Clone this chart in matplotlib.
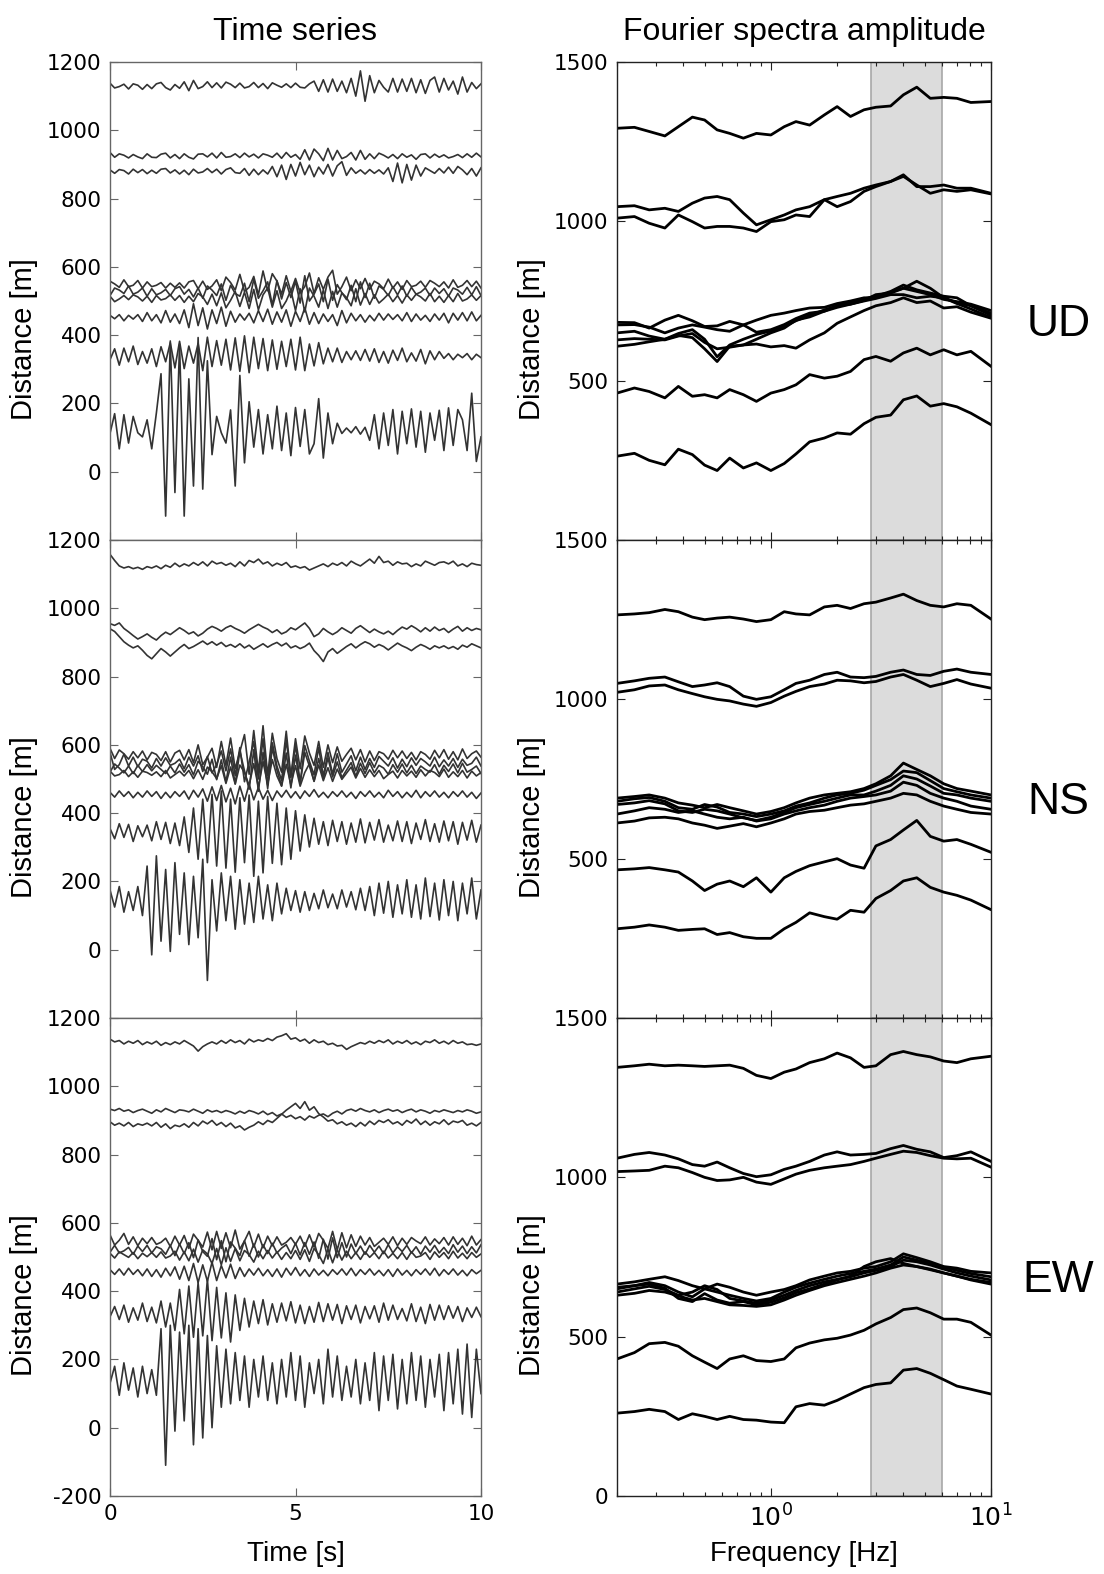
import numpy as np
import matplotlib.pyplot as plt
from matplotlib.ticker import NullFormatter

plt.rcParams['font.family'] = ['Liberation Sans', 'DejaVu Sans']

# ---------------- time series (deviation from station distance, m), dt = 0.125 s
ud_offsets = [1130, 925, 880, 548, 528, 508, 452, 338, 122]
ud_traces = [
    [8,-6,-2,5,-9,6,2,-10, 4,-8,6,10,-5,-12,4,-7, 12,-14,16,-8,-2,12,-5,9, -6,11,5,-5,8,-6,-2,10,
     -5,7,-8,9,2,-4,6,-5, 8,-4,-6,6,14,-16,18,-18, 20,-16,14,-20,22,-30,44,-45, 30,-20,16,-4,-18,22,-18,20,
     -16,22,-20,18,-22,16,26,-18, 22,-12,14,-24,26,-18,10,-8, 6],
    [10,-4,6,2,-6,4,-3,-8, 6,-4,-5,5,8,-6,4,-8, 6,-4,-9,5,6,-3,8,-6, 10,-4,-2,6,-5,8,-3,5,
     -6,6,2,-4,8,-7,10,-4, 4,-10,18,-12,20,6,-14,22, -12,16,-8,-2,10,-12,16,-10, 6,-8,8,2,-6,4,-8,6,
     -4,3,-10,4,6,-6,5,-4, 3,-6,-2,4,-5,6,-4,8, -3],
    [4,-6,5,2,-8,6,-4,5, -7,3,-6,6,8,-5,4,-8, 3,-10,6,-5,-2,8,-4,6, -8,5,10,-4,-6,8,-12,6,
     -10,4,-8,14,-16,18,-24,20, -14,26,-10,18,-16,12,-8,20, -14,16,28,-12,10,-6,4,-8, 5,-6,4,-8,10,-30,24,-34,
     20,-26,18,-14,10,2,-6,8, -5,12,-6,14,4,-10,8,-14, 10],
    [10,2,-8,14,-6,-2,12,-10, 8,-6,-2,6,-10,4,-8,5, -10,8,12,-12,10,-14,-4,14, -18,22,6,-16,30,-20,-8,24,
     -30,40,-18,32,10,-28,26,-20, 18,-24,-6,34,-26,20,-14,22, 42,-28,-6,22,-18,14,-12,18, -14,10,2,-12,16,-10,8,-14,
     12,-6,-2,10,-8,12,4,-6, 8,-10,14,-8,-2,12,-6,10, -10],
    [-12,10,4,-6,16,-8,-2,10, -14,8,-10,-4,6,-12,8,14, -8,6,-16,10,-20,16,4,-12, 22,-26,18,-6,-14,24,-30,36,
     -20,2,28,-40,32,-22,26,-18, 30,-34,46,-28,-8,22,-30,36, -26,20,-4,-24,18,-30,28,-18, 24,-20,16,6,-12,14,-10,16,
     -14,12,-8,-2,10,-12,10,-6, 8,-14,10,4,-8,12,-10,14, -12],
    [6,-10,-2,8,-4,10,4,-8, 6,-12,8,-5,-1,10,-6,8, -12,6,-10,14,4,-18,12,-22, 16,-28,-6,20,-24,18,-30,26,
     -34,10,30,-26,22,-30,-8,24, -36,28,-40,30,6,-26,24,-30, 20,-26,16,2,-22,28,-20,14, -18,10,-14,-2,12,-10,8,-14,
     10,-6,12,4,-8,14,-10,6, -12,8,-10,14,-8,-2,10,-6, 8],
    [6,-4,8,-10,6,-5,8,-12, 14,-10,8,-16,20,-14,10,-18, 22,-30,40,-24,28,-34,22,-18, 30,-26,18,-14,10,-8,12,-16,
     20,-12,24,-20,16,-14,22,-26, 18,-12,28,-20,14,-18,10,-12, 8,-24,20,-16,12,-10,8,-14, 6,-10,12,-8,10,-6,8,-10,
     14,-12,10,-8,6,-12,10,-8, 12,-16,12,-8,14,-10,16,-10, 6],
    [-10,22,-26,24,-16,30,-24,14, -20,22,-30,28,-16,40,-34,44, -36,30,-20,38,-42,56,-30,46, -26,50,-40,54,-44,60,-48,56,
     -36,52,-42,48,-38,44,-30,50, -40,56,-42,36,-28,40,-22,24, -16,24,-18,14,-10,16,-12,20, -14,22,-18,14,-20,18,-12,24,
     -16,10,-14,20,-22,16,-10,14, -6,8,-10,6,-4,8,-10,6, -4],
    [-10,48,-55,45,-38,40,-8,-20, 30,-55,50,165,-252,261,-183,252, -252,150,-164,271,-173,203,-72,40, -8,-38,59,-164,160,-96,83,-50,
     60,-70,45,-55,70,-60,50,-75, 66,-48,60,-70,-40,92,-82,50, -40,20,-10,6,-8,10,-12,8, -30,45,-55,50,-45,60,-70,55,
     -40,62,-50,55,-65,50,-30,58, -60,65,-45,60,30,-60,108,-92, -20],
]

ns_offsets = [1128, 935, 892, 570, 548, 530, 515, 455, 345, 145]
ns_traces = [
    [30,12,-4,-10,-6,-12,-8,-14, -6,-10,-4,-12,-2,-8,4,-6, 2,-4,6,-2,8,-4,10,2, 6,-2,4,-6,8,-4,12,6,
     16,2,8,-4,4,-2,6,-8, -4,-10,-6,-16,-10,-4,2,-6, 4,-2,6,-4,10,2,-4,6, 16,4,24,6,10,-2,8,2,
     4,-6,2,-4,10,4,-2,6, 8,2,10,-4,2,-6,4,0, -2],
    [20,15,22,6,-4,-15,-25,-18, -10,-20,-28,-15,-5,-12,-2,8, 0,-10,-4,-16,-8,4,12,6, -2,8,14,6,0,-8,2,10,
     18,10,4,-6,2,-10,-4,8, 2,12,22,6,-18,-10,6,-4, -12,-4,8,0,-8,6,14,4, -6,4,-4,-10,-2,-12,0,10,
     4,14,6,-4,8,-2,10,0, 6,-6,4,12,-2,8,0,6, 2],
    [48,40,25,10,0,-8,-2,-15, -30,-40,-25,-10,-20,-32,-20,-8, 2,-10,-4,4,12,2,10,0, 8,-4,2,-6,4,-8,0,-12,
     -4,4,-6,2,8,-2,6,-8, -2,-10,-4,6,-16,-30,-48,-20, -10,-24,-14,-4,4,-8,2,10, 4,-6,2,-4,-14,-4,6,-2,
     -8,-16,-6,2,-4,-12,-2,-8, -2,-10,-4,-12,0,-6,4,-2, -8],
    [20,-10,15,4,-12,10,-8,12, -14,8,2,-16,10,-20,6,14, -14,16,-22,30,-28,-6,20,-36, 40,-30,50,-40,10,60,-56,72,
     -50,86,-60,64,-10,-50,70,-62, 48,-40,56,6,-30,40,-36,30, -22,24,-18,2,20,-14,16,-20, 12,-16,10,4,-12,14,-8,12,
     -10,8,-14,10,2,-12,14,-8, 16,-12,10,-14,18,-10,4,12, -6],
    [30,-20,-6,25,-10,16,-12,10, 4,-16,12,-10,14,-8,-2,10, -18,16,-10,20,-26,18,-30,-6, 34,-24,40,-38,44,-56,2,62,
     -48,70,-66,58,-10,-52,66,-44, 52,-60,50,4,-36,44,-40,30, -34,26,-28,-4,20,-24,16,-20, 12,-14,18,4,-10,14,-16,10,
     -12,14,-8,12,2,-10,16,-12, 8,-10,12,-14,10,-8,-2,16, -10],
    [-10,14,2,-12,8,-14,10,-8, 12,-6,10,-2,-14,8,-12,14, -10,12,-18,22,6,-16,28,-32, 26,-38,34,-44,52,-6,-60,56,
     -66,48,-58,62,-4,-50,46,-56, 40,-44,48,8,-36,30,-28,32, -24,20,-26,-4,18,-22,16,-14, 18,-12,10,2,-16,12,-10,14,
     -12,10,-14,8,-2,-10,12,-16, 10,-8,14,-12,16,-10,-2,8, -14],
    [8,-6,-2,10,-8,6,-10,8, 4,-4,6,-8,10,-12,-2,8, -6,10,-14,12,-16,20,6,-14, 24,-28,20,-30,26,4,-34,30,
     -40,36,-30,42,-6,-36,28,-32, 24,-36,4,30,-22,26,-20,18, -22,14,-16,2,20,-12,16,-10, 12,-8,10,-14,-2,8,-12,10,
     -6,8,-10,12,-6,10,4,-8, 14,-10,6,-8,10,-12,8,-6, 4],
    [6,-8,10,-6,8,-10,6,-8, 10,-6,8,-12,6,-10,8,-6, 10,-14,12,-8,16,-20,22,-18, 26,-22,18,-28,24,-20,30,-16,
     20,-14,12,-18,10,-8,12,-10, 8,-12,10,-6,14,-8,6,-10, 8,-6,10,-8,6,-12,8,-6, 10,-8,6,-10,12,-6,8,-10,
     6,-8,12,-10,8,-6,10,-8, 6,-10,8,-6,10,-8,6,-12, 4],
    [10,-20,24,-16,22,-28,18,-14, 20,-26,30,-22,28,-34,26,-40, 44,-60,70,-80,96,-90,110,-100, 120,-106,96,-118,100,-90,108,-130,
     90,-120,104,-92,84,-96,70,-80, 62,-56,50,-44,40,-36,30,-40, 34,-28,30,-36,26,-30,38,-32, 28,-24,36,-30,20,-26,32,-28,
     30,-34,26,-22,36,-28,24,-30, 32,-26,30,-36,28,-24,34,-30, 20],
    [30,-20,40,-35,25,-30,40,-45, 100,-160,130,-120,90,-150,110,-100, 80,-130,70,-110,120,-235,60,-90, 80,-60,70,-85,60,-70,50,-65,
     70,-55,45,-60,50,-40,35,-30, 28,-35,25,-30,20,-25,30,-22, 18,-25,30,-20,25,-28,35,-30, 40,-45,50,-38,55,-50,45,-40,
     60,-50,45,-55,65,-48,50,-58, 60,-45,55,-60,50,-40,65,-55, 30],
]

ew_offsets = [1128, 925, 890, 545, 522, 505, 455, 335, 140]
ew_traces = [
    [10,2,6,-4,4,-2,6,-6, 2,-4,4,-8,0,-6,2,-4, 6,-2,-10,-25,-12,-4,2,-4, 6,-2,8,0,6,-4,10,2,
     8,4,12,6,16,20,26,10, 14,4,10,-2,8,0,4,-6, -2,-10,-8,-20,-12,-6,0,-4, 4,-2,6,0,8,-4,4,-2,
     6,-4,2,-6,4,0,8,-2, 4,-4,6,-2,2,-6,-4,-8, -4],
    [8,4,10,2,6,-2,4,8, 2,-4,6,0,10,4,-2,6, 4,0,8,2,-4,6,0,4, -2,4,0,-6,2,-4,4,0,
     -6,2,-8,-2,-12,-6,-16,-10, -20,-14,-24,-12,-18,-10,-6,-14, -4,2,-6,4,8,2,10,4, 0,6,-2,4,8,2,6,-2,
     4,8,0,6,2,-4,4,0, 6,2,-2,4,0,6,2,-4, 0],
    [6,-4,2,-6,4,-8,0,-4, 2,-6,4,-10,0,-14,-4,-8, 0,-10,4,-6,8,0,10,-4, 4,-8,2,-12,-6,-18,-10,-4,
     6,-2,10,4,16,28,40,50, 60,45,65,40,50,30,20,8, 12,0,6,-4,2,-8,4,-6, 8,-2,10,4,12,0,6,-4,
     10,2,14,-2,8,-4,6,0, 12,-2,8,4,10,-4,2,-6, 4],
    [20,-10,4,24,-8,14,-12,10, -6,12,-8,-2,10,-14,16,-10, 18,-20,22,4,-16,28,-24,30, -20,26,-18,34,-22,2,30,-16,
     22,-18,16,-12,14,-10,-2,12, -8,16,-14,20,-16,24,4,-20, 30,-24,26,-18,20,-14,16,-10, 12,-14,-2,10,-8,14,-12,10,
     -8,12,2,-6,14,-10,8,-6, 12,-10,14,-8,10,-12,16,-10, 6],
    [-8,12,-10,-4,6,-14,10,-6, 12,-10,8,2,-14,12,-18,16, -12,20,-24,28,-6,-20,32,-30, 26,-36,22,4,-18,26,-20,16,
     -22,14,-12,18,-10,4,14,-12, 18,-16,20,-14,22,-26,30,-28, 34,-24,20,-22,16,-12,10,-14, 12,-8,10,-12,14,-10,8,-6,
     12,-10,8,-14,10,-8,12,-10, 6,-12,14,-8,10,-12,8,-10, 14],
    [6,-8,10,2,-6,8,-10,6, -4,8,-6,10,-8,-2,12,-14, 10,-16,18,-20,16,4,-24,20, -28,22,-18,20,-16,14,2,-20,
     12,-10,14,-8,10,-12,8,-10, 14,-12,16,-18,20,2,-24,18, -22,16,-14,12,-10,8,-12,10, -6,8,-10,12,-8,6,-10,8,
     -12,10,-6,-2,8,-12,10,-6, 8,-10,12,-8,6,-10,8,-6, 4],
    [8,-6,10,-8,12,-6,8,-10, 10,-12,8,-14,12,-10,16,-20, 18,-24,26,-30,22,-26,30,-24, 20,-16,24,-18,14,-12,10,-8,
     12,-10,8,-12,10,-14,12,-8, 14,-10,8,-12,10,-8,6,-10, 8,-6,10,-8,12,-10,8,-6, 10,-8,6,-10,8,-12,10,-8,
     6,-10,8,-6,10,-8,12,-10, 8,-6,10,-8,6,-10,8,-4, 6],
    [-10,20,-18,24,-26,16,-20,30, -24,18,-28,36,-40,30,-50,70, -60,80,-70,90,-66,100,-80,76, -72,60,-84,54,-50,44,-40,36,
     -30,40,-34,28,-26,30,-22,34, -28,24,-30,20,-26,32,-24,28, -20,26,-30,22,-18,24,-28,20, -16,22,-26,30,-20,24,-18,14,
     -22,28,-24,18,-30,26,-20,24, -18,22,-14,20,-24,16,-12,18, -10],
    [-10,40,-45,50,-30,35,-50,40, -40,30,-45,150,-250,160,-150,140, -120,160,-190,150,-170,130,-140,100, -80,90,-70,80,-60,70,-80,60,
     -50,70,-60,50,-70,60,-50,80, -60,70,-80,50,-40,60,-70,90, -50,70,-60,40,-50,60,-70,50, -60,80,-90,70,-60,75,-85,60,
     -70,80,-60,70,-80,60,-50,75, -90,80,-70,90,-100,105,-110,90, -40],
]

# ---------------- Fourier spectra (offset amplitude, m) on a shared frequency grid
freq = [0.2, 0.24, 0.28, 0.33, 0.38, 0.44, 0.5, 0.57, 0.65, 0.75, 0.86, 1.0, 1.15, 1.3,
        1.5, 1.75, 2.0, 2.3, 2.65, 3.0, 3.5, 4.0, 4.6, 5.3, 6.1, 7.0, 8.1, 10]

ud_spectra = [
    [1292,1295,1282,1268,1297,1327,1318,1287,1276,1261,1276,1271,1297,1313,1302,1334,1360,1329,1350,1358,1362,1397,1421,1386,1389,1386,1373,1376],
    [1046,1049,1036,1041,1031,1057,1073,1078,1068,1026,989,1005,1020,1036,1046,1068,1078,1088,1104,1114,1125,1146,1109,1109,1114,1104,1104,1088],
    [1010,1015,994,979,1020,999,979,984,984,979,968,999,1005,1020,1015,1068,1046,1062,1094,1109,1125,1141,1114,1088,1099,1094,1099,1086],
    [683,682,665,690,705,688,670,672,686,675,652,660,676,695,712,718,735,740,752,770,775,790,812,790,760,745,735,712],
    [675,676,668,650,665,675,668,660,655,675,690,705,712,720,728,730,742,750,760,760,778,790,780,770,755,748,740,720],
    [650,655,640,630,648,660,630,575,612,630,645,656,670,688,705,722,735,745,757,765,780,800,785,775,765,760,735,705],
    [628,632,630,628,640,648,620,600,605,612,630,650,665,690,700,718,730,740,750,758,770,770,760,765,760,742,725,698],
    [608,614,622,630,642,635,600,560,608,612,615,606,610,602,628,650,680,700,720,735,745,760,745,750,728,732,715,696],
    [461,477,466,446,482,451,456,446,472,456,435,461,472,487,519,508,514,529,566,576,561,587,602,581,597,581,592,545],
    [263,272,250,236,285,268,235,218,257,226,242,218,240,270,308,320,336,332,365,385,392,440,452,420,428,418,398,362],
]
ns_spectra = [
    [1265,1268,1272,1282,1275,1258,1250,1255,1258,1252,1244,1250,1275,1268,1265,1290,1295,1285,1300,1305,1318,1330,1310,1295,1290,1300,1295,1252],
    [1050,1058,1066,1070,1055,1040,1045,1052,1040,1010,1000,1008,1030,1050,1060,1078,1085,1070,1068,1072,1085,1092,1078,1075,1088,1095,1085,1078],
    [1022,1030,1042,1045,1030,1018,1008,1000,995,985,978,990,1010,1025,1040,1048,1060,1058,1052,1056,1070,1078,1060,1040,1050,1062,1048,1035],
    [690,695,700,690,675,668,660,670,660,650,640,648,660,675,690,700,705,710,720,735,760,800,780,760,735,720,712,700],
    [680,688,692,680,660,655,670,662,645,640,632,640,650,665,675,690,700,705,715,730,748,775,770,745,720,710,700,690],
    [670,675,682,672,650,645,655,650,640,628,620,630,645,660,670,680,690,700,700,712,730,760,750,728,705,700,690,680],
    [640,650,660,655,645,650,640,630,625,630,618,625,640,650,660,668,680,690,695,700,712,740,730,705,690,680,665,655],
    [612,618,628,630,625,612,605,595,602,610,600,612,625,640,648,652,660,668,672,680,690,705,700,680,665,655,645,640],
    [465,468,472,465,458,430,400,420,430,412,440,395,440,460,478,490,500,480,470,540,560,590,620,570,555,560,545,520],
    [280,285,292,285,275,278,280,262,268,255,250,250,280,300,330,318,310,338,332,375,400,430,440,410,395,385,370,340],
]
ew_spectra = [
    [1345,1350,1355,1350,1352,1350,1348,1350,1352,1342,1320,1310,1330,1340,1360,1372,1390,1375,1345,1350,1385,1395,1385,1378,1365,1360,1372,1380],
    [1060,1072,1078,1070,1058,1040,1035,1048,1030,1012,1002,1008,1025,1035,1050,1070,1080,1070,1072,1075,1090,1100,1088,1080,1062,1068,1080,1050],
    [1018,1020,1022,1035,1030,1015,1000,990,992,1000,985,978,995,1010,1022,1030,1035,1040,1050,1060,1072,1082,1078,1068,1060,1058,1060,1032],
    [665,672,680,688,676,660,650,665,655,640,630,640,648,660,678,690,700,705,715,720,735,760,748,735,720,715,705,700],
    [650,660,670,660,640,625,650,640,630,620,612,620,640,655,668,680,690,698,705,712,725,750,740,730,718,708,698,688],
    [640,650,658,648,630,640,660,648,620,612,605,615,630,645,660,672,680,688,700,708,720,740,735,725,712,700,690,678],
    [655,660,665,652,620,610,635,615,605,610,600,608,622,638,650,665,678,690,720,735,745,730,720,712,700,690,680,670],
    [630,636,645,640,628,615,620,610,600,598,595,600,615,630,645,660,670,680,690,700,715,725,720,710,700,690,678,665],
    [430,450,478,482,470,440,420,400,430,440,425,422,430,465,480,490,495,505,520,540,560,585,590,575,555,555,545,505],
    [260,265,272,265,240,258,250,240,250,240,238,232,230,280,290,285,300,320,340,350,355,395,400,385,365,345,335,320],
]

components = ['UD', 'NS', 'EW']
band = (2.85, 6.0)

W, H = 1104, 1574
fig = plt.figure(figsize=(W / 100, H / 100), dpi=100)

tick_font = dict(fontfamily='DejaVu Sans', fontsize=15.5)
rows = [(ud_offsets, ud_traces, ud_spectra),
        (ns_offsets, ns_traces, ns_spectra),
        (ew_offsets, ew_traces, ew_spectra)]

for r, (offs, traces, spectra) in enumerate(rows):
    top_px = 62 + r * 478
    bottom = 1 - (top_px + 478) / H
    last = r == 2

    # --- time series
    ax = fig.add_axes([110 / W, bottom, 371 / W, 478 / H])
    for off, dev in zip(offs, traces):
        t = np.linspace(0, 10, len(dev))
        ax.plot(t, off + np.asarray(dev), color='#333333', lw=1.2, solid_joinstyle='round')
    ax.set_xlim(0, 10)
    ax.set_ylim(-200, 1200)
    yt = list(range(-200 if last else 0, 1201, 200))
    ax.set_yticks(yt, labels=[str(v) for v in yt], **tick_font)
    ax.set_xticks([0, 5, 10], labels=['0', '5', '10'], **tick_font)
    ax.tick_params(direction='in', top=True, right=True, length=6, width=0.8,
                   color='#666666', pad=6, labelbottom=last)
    for s in ax.spines.values():
        s.set_color('#666666')
        s.set_linewidth(1.0)
    ax.set_ylabel('Distance [m]', fontsize=21)
    ax.yaxis.set_label_coords(-0.195, 0.42)
    if last:
        ax.set_xlabel('Time [s]', fontsize=20, va='top')
        ax.xaxis.set_label_coords(0.5, -0.095)

    # --- spectra
    bx = fig.add_axes([617 / W, bottom, 374 / W, 478 / H])
    bx.axvspan(band[0], band[1], facecolor='#dcdcdc', edgecolor='#a8a8a8', lw=1.2, zorder=0)
    for amp in spectra:
        bx.plot(freq, amp, color='black', lw=2.0, solid_joinstyle='round')
    bx.set_xscale('log')
    bx.set_xlim(0.2, 10)
    bx.set_ylim(0, 1500)
    yt = [0, 500, 1000, 1500] if last else [500, 1000, 1500]
    bx.set_yticks(yt, labels=[str(v) for v in yt], **tick_font)
    bx.set_xticks([1, 10], labels=[r'$10^{0}$', r'$10^{1}$'], fontsize=18)
    bx.xaxis.set_minor_formatter(NullFormatter())
    bx.tick_params(which='both', direction='in', top=True, right=True, color='#222222',
                   pad=6, labelbottom=last)
    bx.tick_params(which='major', length=6, width=0.8)
    bx.tick_params(which='minor', length=3, width=0.8)
    for s in bx.spines.values():
        s.set_color('#222222')
        s.set_linewidth(1.0)
    bx.set_ylabel('Distance [m]', fontsize=21)
    bx.yaxis.set_label_coords(-0.19, 0.42)
    if last:
        bx.set_xlabel('Frequency [Hz]', fontsize=20, va='top')
        bx.xaxis.set_label_coords(0.5, -0.095)
    bx.text(1.18, 0.45, components[r], transform=bx.transAxes, fontsize=32,
            ha='center', va='center')

fig.text(295 / W, 1 - 32 / H, 'Time series', fontsize=23, ha='center', va='center')
fig.text(804 / W, 1 - 32 / H, 'Fourier spectra amplitude', fontsize=23, ha='center', va='center')

fig.savefig('out.png', dpi=100)
